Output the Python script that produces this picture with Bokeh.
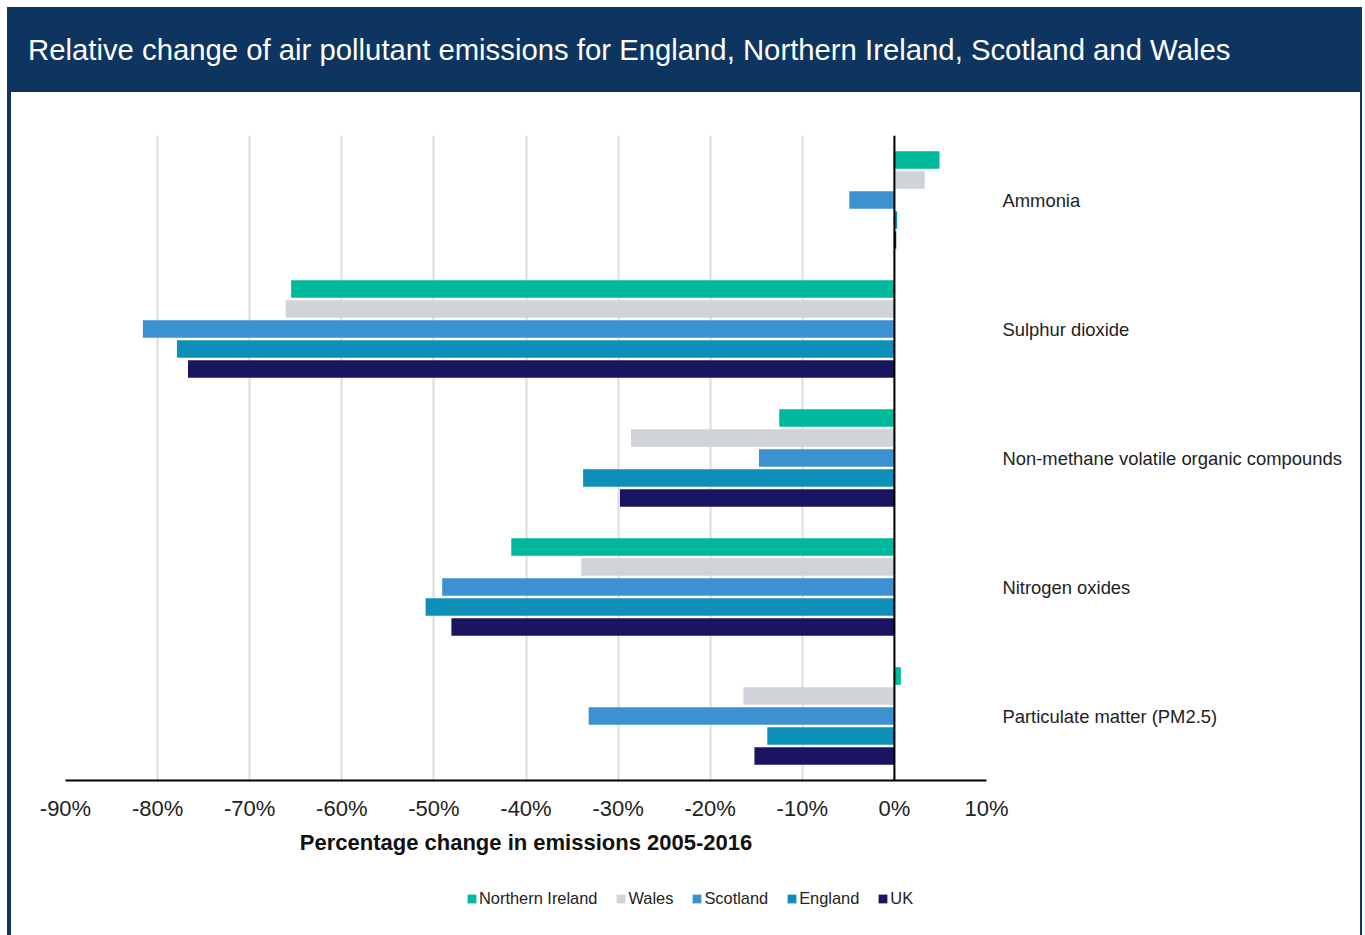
from bokeh.plotting import figure
from bokeh.models import (Range1d, FixedTicker, PrintfTickFormatter, Span, Legend,
                          LegendItem, Div, ColumnDataSource)
from bokeh.layouts import column, row
from bokeh.embed import file_html
from bokeh.resources import INLINE

# ---- data (percentage change in emissions 2005-2016) ----
categories = ["Ammonia", "Sulphur dioxide", "Non-methane volatile organic compounds",
              "Nitrogen oxides", "Particulate matter (PM2.5)"]
series_names = ["Northern Ireland", "Wales", "Scotland", "England", "UK"]
northern_ireland = [4.9, -65.5, -12.5, -41.6, 0.7]
wales = [3.3, -66.1, -28.6, -34.0, -16.4]
scotland = [-4.9, -81.6, -14.7, -49.1, -33.2]
england = [0.3, -77.9, -33.8, -50.9, -13.8]
uk = [0.2, -76.7, -29.8, -48.1, -15.2]
x_ticks = [-90, -80, -70, -60, -50, -40, -30, -20, -10, 0, 10]

series_values = [northern_ireland, wales, scotland, england, uk]
colors = ["#00B89C", "#D0D3D8", "#3C91D0", "#0E8FBA", "#1A1560"]
offsets = [-0.31, -0.155, 0.0, 0.155, 0.31]

NAVY = "#0D3560"
FONT = "Liberation Sans"

header = Div(
    text=('<div style="font-family:\'Liberation Sans\',Arial,sans-serif;font-size:29.3px;'
          'color:#ffffff;padding-left:21px;line-height:85px;white-space:nowrap;">'
          'Relative change of air pollutant emissions for England, Northern Ireland, '
          'Scotland and Wales</div>'),
    width=1355, height=85, margin=0,
    styles={"background-color": NAVY},
)

# ---- main chart ----
p = figure(width=1349, height=773, output_backend="svg", toolbar_location=None,
           x_range=Range1d(-90, 10), y_range=Range1d(5, 0),
           y_axis_location="right",
           min_border_left=54, min_border_right=374, min_border_top=43,
           min_border_bottom=85)
p.outline_line_color = None
p.background_fill_color = "white"
p.border_fill_color = "white"

sources = []
for name, vals, col, off in zip(series_names, series_values, colors, offsets):
    src = ColumnDataSource(dict(y=[i + 0.5 + off for i in range(len(categories))],
                                right=vals, left=[0] * len(vals)))
    sources.append(src)
    p.hbar(y="y", left="left", right="right", height=0.136, source=src,
           fill_color=col, line_color=None)

# zero line
p.add_layout(Span(location=0, dimension="height", line_color="black", line_width=2))

# x axis
xa = p.xaxis[0]
xa.ticker = FixedTicker(ticks=x_ticks)
xa.formatter = PrintfTickFormatter(format="%d%%")
xa.major_tick_out = 0
xa.major_tick_in = 0
xa.minor_tick_out = 0
xa.minor_tick_in = 0
xa.axis_line_color = "black"
xa.axis_line_width = 2
xa.major_label_text_font = FONT
xa.major_label_text_font_size = "22px"
xa.major_label_text_color = "#222222"
xa.major_label_standoff = 15
xa.axis_label = "Percentage change in emissions 2005-2016"
xa.axis_label_text_font = FONT
xa.axis_label_text_font_size = "22px"
xa.axis_label_text_font_style = "bold"
xa.axis_label_text_color = "#111111"
xa.axis_label_standoff = 6

# y axis (category labels on the right)
ya = p.yaxis[0]
ya.ticker = FixedTicker(ticks=[i + 0.5 for i in range(len(categories))])
ya.major_label_overrides = {i + 0.5: c for i, c in enumerate(categories)}
ya.axis_line_color = None
ya.major_tick_out = 0
ya.major_tick_in = 0
ya.minor_tick_out = 0
ya.minor_tick_in = 0
ya.major_label_text_font = FONT
ya.major_label_text_font_size = "18.4px"
ya.major_label_text_color = "#222222"
ya.major_label_standoff = 16

p.xgrid.ticker = FixedTicker(ticks=x_ticks)
p.xgrid.grid_line_color = "#DDDDDD"
p.xgrid.grid_line_width = 2
p.ygrid.visible = False

# ---- legend strip (hidden proxy renderers share the chart data) ----
lg = figure(width=1349, height=70, output_backend="svg", toolbar_location=None,
            x_range=Range1d(-90, 10), y_range=Range1d(5, 0),
            x_axis_type=None, y_axis_type=None, min_border=0)
lg.outline_line_color = None
lg.xgrid.visible = False
lg.ygrid.visible = False
items = []
for name, col, src in zip(series_names, colors, sources):
    r = lg.hbar(y="y", left="left", right="right", height=0.136, source=src,
                fill_color=col, line_color=None, visible=False)
    items.append(LegendItem(label=name, renderers=[r]))
legend = Legend(items=items, orientation="horizontal", location=(401, 27),
                padding=0, margin=0, spacing=18, label_standoff=2,
                glyph_width=11, glyph_height=11, label_height=18,
                border_line_color=None, background_fill_alpha=0,
                inactive_fill_alpha=0,
                label_text_font=FONT, label_text_font_size="16.4px",
                label_text_color="#222222")
lg.add_layout(legend, "center")

left_bar = Div(width=4, height=843, margin=0, styles={"background-color": NAVY})
right_bar = Div(width=2, height=843, margin=0, styles={"background-color": NAVY})

layout = column(header,
                row(left_bar, column(p, lg, spacing=0), right_bar, spacing=0),
                spacing=0, margin=(7, 0, 0, 7))

open("out.html", "w").write(file_html(layout, INLINE))
